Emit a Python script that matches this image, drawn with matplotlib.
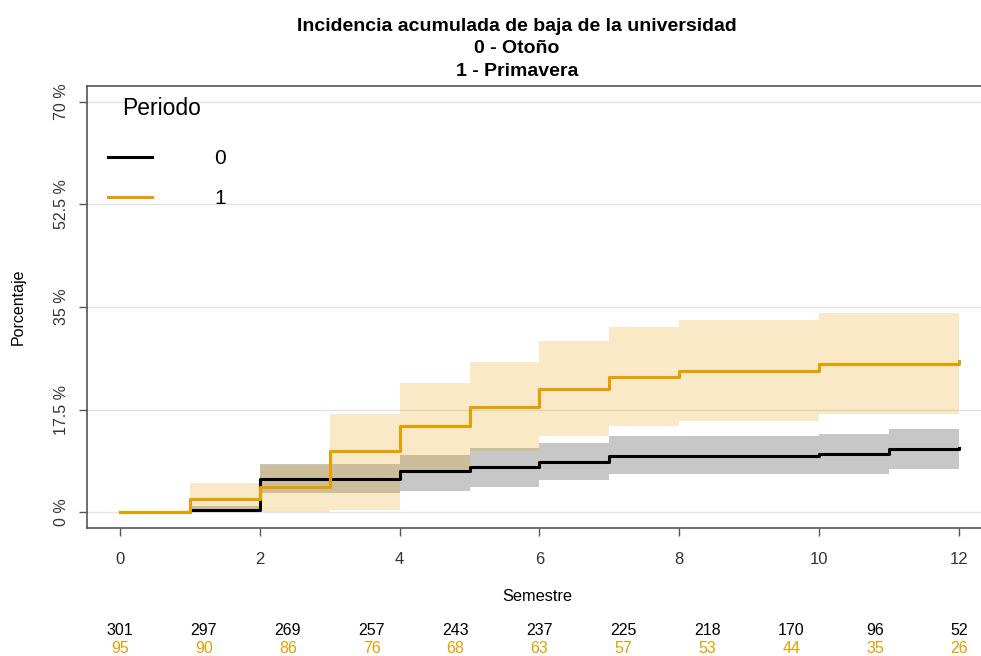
import numpy as np
import matplotlib
matplotlib.use('Agg')
import matplotlib.pyplot as plt
import matplotlib.transforms as mtransforms

plt.rcParams['font.family'] = ['Liberation Sans', 'DejaVu Sans']

# Periodo 0 (Otoño)
t0 = [0, 1, 2, 4, 5, 6, 7, 10, 11, 12]
s0 = [0, 0.3, 5.6, 7.0, 7.7, 8.5, 9.6, 9.9, 10.8, 11.0]
lo0 = [0, 0, 3.2, 3.6, 4.3, 5.5, 6.5, 6.5, 7.3, 7.3]
hi0 = [0, 1.0, 8.3, 9.7, 11.0, 11.8, 13.0, 13.3, 14.2, 14.2]

# Periodo 1 (Primavera)
t1 = [0, 1, 2, 3, 4, 5, 6, 7, 8, 10, 12]
s1 = [0, 2.2, 4.3, 10.5, 14.7, 17.9, 21.0, 23.1, 24.1, 25.2, 25.8]
lo1 = [0, 0, 0, 0.3, 7.2, 10.4, 13.0, 14.7, 15.6, 16.7, 16.7]
hi1 = [0, 4.9, 8.0, 16.7, 22.0, 25.6, 29.2, 31.6, 32.8, 34.0, 34.0]

# numbers at risk
risk_times = [0, 1.2, 2.4, 3.6, 4.8, 6.0, 7.2, 8.4, 9.6, 10.8, 12]
risk0 = [301, 297, 269, 257, 243, 237, 225, 218, 170, 96, 52]
risk1 = [95, 90, 86, 76, 68, 63, 57, 53, 44, 35, 26]

yticks = [0, 17.5, 35, 52.5, 70]
ytick_labels = ['0 %', '17.5 %', '35 %', '52.5 %', '70 %']
xticks = [0, 2, 4, 6, 8, 10, 12]

orange = '#E69F00'

fig = plt.figure(figsize=(9.81, 6.56), dpi=100)
ax = fig.add_axes([0.0887, 0.1951, 0.9174, 0.6738])

ax.fill_between(t0, lo0, hi0, step='post', color='black', alpha=0.22, lw=0)
ax.fill_between(t1, lo1, hi1, step='post', color=orange, alpha=0.22, lw=0)
ax.step(t0, s0, where='post', color='black', lw=2.2, label='0')
ax.step(t1, s1, where='post', color=orange, lw=2.2, label='1')

ax.set_xlim(-0.47, 12.4)
ax.set_ylim(-2.7, 72.7)
ax.set_yticks(yticks)
ax.set_yticklabels(ytick_labels, rotation=90, va='center', fontsize=11.5, color='#333333')
ax.set_xticks(xticks)
ax.tick_params(axis='x', labelsize=12, labelcolor='#333333', pad=11)
ax.tick_params(axis='y', pad=7)
ax.tick_params(length=6, color='#555555', width=1)
ax.grid(axis='y', color='#e3e3e3', lw=1)
ax.set_axisbelow(True)
for sp in ax.spines.values():
    sp.set_color('#555555')
    sp.set_linewidth(1.2)

ax.set_xlabel('Semestre', fontsize=11.8, labelpad=16)
ax.set_ylabel('Porcentaje', fontsize=11.5, labelpad=20)

# legend
ax.text(0.0389, 0.948, 'Periodo', transform=ax.transAxes, ha='left', va='center', fontsize=16.5)
ax.legend(loc='center left', frameon=False, fontsize=15, handlelength=2.1,
          handletextpad=3.0, labelspacing=1.0, borderaxespad=0,
          bbox_to_anchor=(0.0141, 0.79))

fig.text(0.527, 0.973, 'Incidencia acumulada de baja de la universidad\n0 - Otoño\n1 - Primavera',
         ha='center', va='top', fontsize=14, fontweight='bold', linespacing=1.43)

tr = mtransforms.blended_transform_factory(ax.transData, fig.transFigure)
for x, n0, n1 in zip(risk_times, risk0, risk1):
    ax.text(x, 0.0396, str(n0), transform=tr, ha='center', va='center', fontsize=11.5, color='black')
    ax.text(x, 0.0107, str(n1), transform=tr, ha='center', va='center', fontsize=11.5, color=orange)

fig.savefig('out.png', dpi=100)
